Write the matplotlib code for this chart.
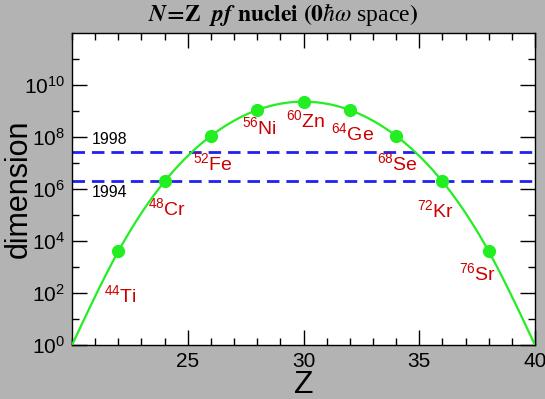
import numpy as np
import matplotlib
matplotlib.use("Agg")
import matplotlib.pyplot as plt
from matplotlib.ticker import FixedLocator, NullFormatter, MultipleLocator

# ---- data ----
Z = [22, 24, 26, 28, 30, 32, 34, 36, 38]
dimension = [4.0e3, 1.96e6, 1.10e8, 1.09e9, 2.29e9, 1.09e9, 1.10e8, 1.96e6, 4.0e3]
curve_Z = [20, 22, 24, 26, 28, 30, 32, 34, 36, 38, 40]
curve_dim = [1, 4.0e3, 1.96e6, 1.10e8, 1.09e9, 2.29e9, 1.09e9, 1.10e8, 1.96e6, 4.0e3, 1]
nuclei = ["Ti", "Cr", "Fe", "Ni", "Zn", "Ge", "Se", "Kr", "Sr"]
mass = ["44", "48", "52", "56", "60", "64", "68", "72", "76"]
label_Z = [22.1, 24.1, 26.1, 28.1, 30.1, 32.1, 34.05, 35.7, 37.5]
label_dim = [80, 1.8e5, 1.0e7, 2.3e8, 4.3e8, 1.35e8, 9.5e6, 1.6e5, 5.7e2]
limit_years = ["1998", "1994"]
limit_dims = [2.6e7, 2.0e6]

# natural cubic spline in log space for the smooth curve
def natural_spline(x, y, xs):
    x = np.asarray(x, float); y = np.asarray(y, float)
    n = len(x); h = np.diff(x)
    A = np.zeros((n, n)); b = np.zeros(n)
    A[0, 0] = A[-1, -1] = 1
    for i in range(1, n - 1):
        A[i, i - 1] = h[i - 1]; A[i, i] = 2 * (h[i - 1] + h[i]); A[i, i + 1] = h[i]
        b[i] = 6 * ((y[i + 1] - y[i]) / h[i] - (y[i] - y[i - 1]) / h[i - 1])
    M = np.linalg.solve(A, b)
    idx = np.clip(np.searchsorted(x, xs) - 1, 0, n - 2)
    x0 = x[idx]; x1 = x[idx + 1]; hh = x1 - x0
    t0 = x1 - xs; t1 = xs - x0
    return (M[idx] * t0**3 / (6 * hh) + M[idx + 1] * t1**3 / (6 * hh)
            + (y[idx] / hh - M[idx] * hh / 6) * t0 + (y[idx + 1] / hh - M[idx + 1] * hh / 6) * t1)

xs = np.linspace(curve_Z[0], curve_Z[-1], 400)
ys = 10 ** natural_spline(curve_Z, np.log10(curve_dim), xs)

plt.rcParams['font.family'] = ['Liberation Sans', 'DejaVu Sans']
plt.rcParams['mathtext.fontset'] = 'custom'
plt.rcParams['mathtext.rm'] = 'Liberation Sans'
plt.rcParams['mathtext.it'] = 'Liberation Sans:italic'
plt.rcParams['mathtext.bf'] = 'Liberation Sans:bold'

fig = plt.figure(figsize=(5.45, 3.99), dpi=100, facecolor='#b3b3b3')
ax = fig.add_axes([72 / 545, 54 / 399, 463 / 545, 312 / 399])
ax.set_facecolor('white')

green = '#22ee22'
blue = '#2020f0'
red = '#cc0000'

ax.plot(xs, ys, color=green, lw=1.6, zorder=3)
ax.plot(Z, dimension, 'o', color=green, ms=8.5, zorder=4)

for yr, d in zip(limit_years, limit_dims):
    ax.axhline(d, color=blue, lw=2.0, dashes=(4.5, 2.5), zorder=2)
ax.text(20.85, limit_dims[0] * 1.55, limit_years[0], fontsize=11.5, ha='left', va='bottom')
ax.text(20.85, limit_dims[1] / 1.45, limit_years[1], fontsize=11.5, ha='left', va='top')

for zx, zy, m, el in zip(label_Z, label_dim, mass, nuclei):
    ax.text(zx, zy, r'$^{%s}$%s' % (m, el), color=red, fontsize=14, ha='center', va='center')

ax.set_yscale('log')
ax.set_xlim(20, 40)
ax.set_ylim(1, 1e12)
ax.xaxis.set_major_locator(FixedLocator([25, 30, 35, 40]))
ax.xaxis.set_minor_locator(MultipleLocator(1))
ax.yaxis.set_major_locator(FixedLocator([1e0, 1e2, 1e4, 1e6, 1e8, 1e10]))
ax.yaxis.set_minor_locator(FixedLocator([1e1, 1e3, 1e5, 1e7, 1e9, 1e11]))
ax.yaxis.set_minor_formatter(NullFormatter())
ax.set_yticklabels([r'$10^{%d}$' % e for e in [0, 2, 4, 6, 8, 10]])
ax.tick_params(which='both', direction='in', top=True, right=True, labelsize=15, width=1)
ax.tick_params(which='major', length=11, pad=5)
ax.tick_params(which='minor', length=5)
for s in ax.spines.values():
    s.set_linewidth(1)

ax.set_xlabel('Z', fontsize=23, va='center')
ax.xaxis.set_label_coords(0.5, -0.128)
ax.set_ylabel('dimension', fontsize=22, va='center')
ax.yaxis.set_label_coords(-0.116, 0.5)

fig.text(283 / 545, 1 - 15 / 399,
         r'$\mathbfit{N}\!\mathbf{=\!Z}\ \ \mathbfit{pf}\ \mathbf{nuclei}\ \mathbf{(0}\mathit{\hbar}\omega$ space$\mathbf{)}$',
         ha='center', va='center', fontsize=17, family=['Liberation Serif'],
         math_fontfamily='stix')

fig.savefig('out.png', dpi=100, facecolor=fig.get_facecolor())
